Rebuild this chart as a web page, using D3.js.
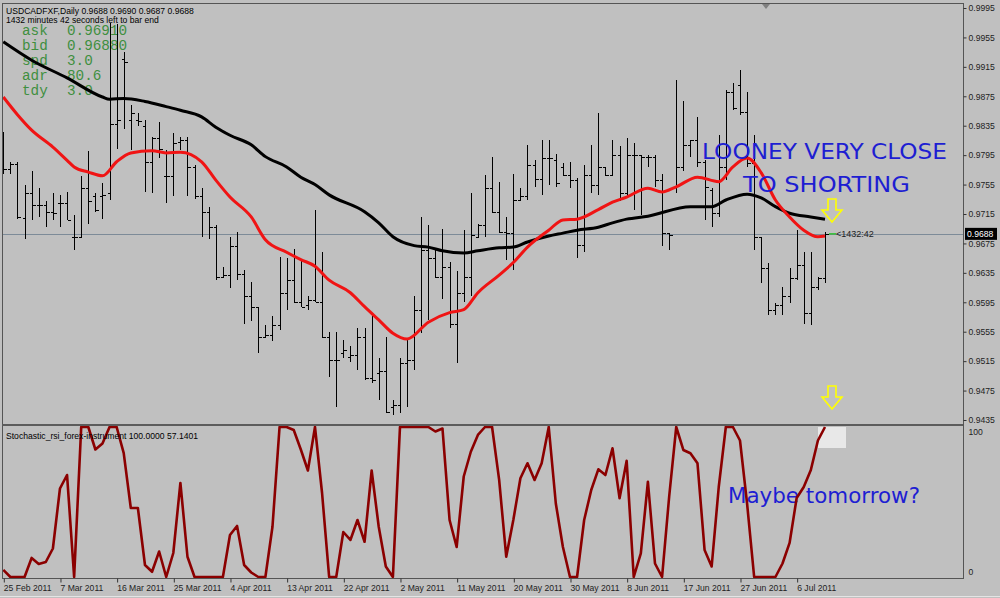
<!DOCTYPE html>
<html><head><meta charset="utf-8">
<script src="https://cdn.jsdelivr.net/npm/d3@7"></script>
<style>body{margin:0;background:#c0c0c0}svg{display:block}</style>
</head><body>
<svg id="c" width="1000" height="598"></svg>
<script>
// ---------- DATA ----------
const open = [.9783,.9776,.9783,.9709,.9743,.9727,.9727,.9718,.9730,.9730,
.9684,.9684,.9750,.9739,.9739,.9743,.9838,.9926,.9843,.9843,
.9834,.9786,.9818,.9766,.9766,.9813,.9815,.9779,.9739,.9718,
.9698,.9630,.9632,.9671,.9634,.9603,.9589,.9548,.9551,.9564,
.9607,.9625,.9596,.9591,.9598,.9596,.9548,.9517,.9526,.9521,
.9523,.9548,.9492,.9499,.9501,.9453,.9455,.9512,.9517,.9585,
.9666,.9655,.9630,.9643,.9566,.9607,.9630,.9684,.9700,.9750,
.9718,.9691,.9689,.9734,.9739,.9782,.9763,.9791,.9788,.9779,
.9768,.9761,.9673,.9768,.9754,.9779,.9768,.9795,.9743,.9795,
.9795,.9793,.9793,.9761,.9689,.9752,.9779,.9809,.9816,.9786,
.9748,.9716,.9779,.9881,.9890,.9854,.9784,.9684,.9641,.9585,
.9591,.9603,.9628,.9646,.9580,.9616,.9628];
const high = [.9827,.9786,.9786,.9754,.9773,.9750,.9732,.9743,.9741,.9745,
.9714,.9766,.9800,.9743,.9757,.9975,.9973,.9935,.9863,.9852,
.9843,.9820,.9840,.9802,.9825,.9820,.9820,.9782,.9750,.9725,
.9700,.9643,.9684,.9691,.9639,.9623,.9589,.9564,.9576,.9657,
.9655,.9668,.9653,.9603,.9720,.9664,.9555,.9555,.9544,.9535,
.9560,.9560,.9576,.9519,.9548,.9462,.9519,.9544,.9603,.9711,
.9700,.9666,.9695,.9650,.9637,.9693,.9743,.9702,.9768,.9793,
.9759,.9711,.9770,.9750,.9809,.9788,.9816,.9816,.9797,.9784,
.9786,.9764,.9782,.9809,.9852,.9779,.9816,.9807,.9818,.9811,
.9795,.9795,.9795,.9770,.9689,.9897,.9868,.9816,.9847,.9788,
.9750,.9822,.9884,.9893,.9911,.9881,.9822,.9684,.9648,.9594,
.9616,.9641,.9693,.9664,.9664,.9630,.9691];
const low = [.9770,.9770,.9708,.9681,.9707,.9711,.9698,.9707,.9698,.9707,
.9666,.9682,.9702,.9718,.9708,.9734,.9804,.9831,.9802,.9834,
.9745,.9743,.9791,.9730,.9739,.9802,.9739,.9736,.9684,.9681,
.9625,.9630,.9614,.9625,.9566,.9569,.9526,.9546,.9542,.9557,
.9585,.9594,.9589,.9585,.9596,.9546,.9494,.9453,.9519,.9514,
.9503,.9490,.9485,.9462,.9444,.9442,.9444,.9453,.9503,.9553,
.9571,.9628,.9600,.9560,.9512,.9596,.9603,.9684,.9684,.9716,
.9689,.9653,.9639,.9732,.9734,.9752,.9741,.9754,.9752,.9766,
.9750,.9655,.9664,.9743,.9741,.9766,.9766,.9732,.9739,.9720,
.9714,.9779,.9752,.9671,.9666,.9743,.9773,.9793,.9779,.9707,
.9698,.9711,.9761,.9856,.9850,.9779,.9666,.9621,.9578,.9578,
.9578,.9594,.9625,.9566,.9564,.9612,.9621];
const close = [.9776,.9783,.9711,.9743,.9727,.9727,.9718,.9716,.9730,.9707,
.9684,.9750,.9732,.9721,.9741,.9838,.9843,.9922,.9852,.9841,
.9786,.9818,.9804,.9766,.9811,.9815,.9779,.9739,.9718,.9698,
.9630,.9632,.9671,.9634,.9603,.9589,.9548,.9551,.9564,.9607,
.9625,.9596,.9589,.9598,.9596,.9548,.9517,.9517,.9530,.9523,
.9548,.9492,.9490,.9501,.9446,.9455,.9512,.9517,.9585,.9666,
.9655,.9630,.9643,.9566,.9607,.9630,.9686,.9700,.9750,.9718,
.9691,.9689,.9734,.9739,.9782,.9763,.9791,.9791,.9757,.9768,
.9761,.9673,.9768,.9754,.9779,.9768,.9795,.9743,.9795,.9795,
.9793,.9793,.9761,.9689,.9686,.9779,.9809,.9816,.9786,.9752,
.9716,.9779,.9881,.9859,.9854,.9784,.9684,.9641,.9585,.9591,
.9603,.9628,.9646,.9580,.9616,.9628,.9688];

const blackIdx = [0,4,9,14,15,17,20,23,25,28,30,32,35,37,40,42,44,46,51,53,55,58,60,62,65,67,70,72,74,77,79,81,84,86,88,91,97,100,102,105,107,109,111,114,116];
const blackVal = [.9949,.9924,.9900,.9874,.9871,.9872,.9868,.9861,.9856,.9847,.9833,.9822,.9809,.9793,.9779,.9765,.9755,.9741,.9718,.9703,.9684,.9672,.9670,.9665,.9662,.9665,.9669,.9670,.9677,.9685,.9689,.9693,.9697,.9703,.9708,.9712,.9725,.9725,.9734,.9742,.9737,.9725,.9716,.9711,.9708];
const redIdx = [0,2,4,7,9,10,12,14,16,18,21,23,25,28,30,32,35,37,40,42,44,46,49,51,53,55,57,60,63,65,67,70,72,74,77,79,81,84,86,88,91,93,95,98,101,103,105,107,109,111,113,115,116];
const redVal = [.9874,.9850,.9829,.9806,.9788,.9779,.9772,.9767,.9786,.9798,.9801,.9798,.9799,.9786,.9761,.9738,.9711,.9680,.9663,.9653,.9644,.9625,.9608,.9589,.9571,.9553,.9545,.9568,.9581,.9585,.9608,.9632,.9649,.9670,.9693,.9707,.9708,.9721,.9731,.9738,.9750,.9745,.9752,.9765,.9759,.9779,.9791,.9771,.9734,.9711,.9693,.9684,.9685];

const stoch = [4.7,0,0,0,12.7,8.7,10,19,59,68,
0,100,100,85,89,100,100,82.6,46,46,
8,3.5,17,0,16,62.7,13.5,0,0,0,
0,0,28,34,8,3,0,0,33.5,100,
100,98,85,71,100,56,0,0,30,24.7,
38,23.5,71,33.5,7,0,100,100,100,100,
100,97,99,38,20,67,83.5,94.7,100,100,
64.7,13.5,38,65.8,75.8,64.7,75.8,100,49,20,
0,0,38,58,71.8,68,85.8,52.5,77.5,0,
15.8,63.5,9,0,53.5,100,84.7,82.5,75.8,18,
7,60,100,100,91,49,0,0,0,0,
9,22.7,52.7,60,71.3,91,100];

const yTicks = [0.9995,0.9955,0.9915,0.9875,0.9835,0.9795,0.9755,0.9715,0.9675,0.9635,0.9595,0.9555,0.9515,0.9475,0.9435];
const xTickBars = [0,8,16,24,32,40,48,56,64,72,80,88,96,104,112];
const xTickLabels = ["25 Feb 2011","7 Mar 2011","16 Mar 2011","25 Mar 2011","4 Apr 2011","13 Apr 2011","22 Apr 2011","2 May 2011","11 May 2011","20 May 2011","30 May 2011","8 Jun 2011","17 Jun 2011","27 Jun 2011","6 Jul 2011"];
const infoLabels = ["ask","bid","spd","adr","tdy"];
const infoValues = ["0.96910","0.96880","3.0","80.6","3.0"];
const currentPrice = 0.9688;

// ---------- DRAW ----------
const svg = d3.select("#c");
const font = "'Liberation Sans', Arial, sans-serif";
svg.append("rect").attr("width",1000).attr("height",598).attr("fill","#c0c0c0");

const x = d3.scaleLinear().domain([0,116]).range([3.3,825]);
const y = d3.scaleLinear().domain([0.9435,0.9995]).range([420,8]);
const ys = d3.scaleLinear().domain([0,100]).range([577,427]);

const defs = svg.append("defs");
defs.append("clipPath").attr("id","mainclip").append("rect").attr("x",2).attr("y",4).attr("width",961).attr("height",420);
defs.append("clipPath").attr("id","subclip").append("rect").attr("x",2).attr("y",426).attr("width",961).attr("height",153);

// green info text (under bars)
const info = svg.append("g").attr("font-family","'Liberation Mono','DejaVu Sans Mono',monospace").attr("font-size",14.3).attr("fill","#3f8f3f");
infoLabels.forEach((l,i)=>{
  info.append("text").attr("x",22).attr("y",35+i*15).text(l);
  info.append("text").attr("x",67).attr("y",35+i*15).text(infoValues[i]);
});

const main = svg.append("g").attr("clip-path","url(#mainclip)");
// current price line
main.append("line").attr("x1",2).attr("x2",963).attr("y1",Math.round(y(currentPrice))+0.5).attr("y2",Math.round(y(currentPrice))+0.5).attr("stroke","#7d8b98").attr("stroke-width",1);

// OHLC bars
const bars = main.append("g").attr("stroke","#000").attr("stroke-width",1).attr("shape-rendering","crispEdges");
open.forEach((o,i)=>{
  const cx = Math.round(x(i))+0.5;
  bars.append("line").attr("x1",cx).attr("x2",cx).attr("y1",y(high[i])).attr("y2",y(low[i]));
  bars.append("line").attr("x1",cx-3).attr("x2",cx).attr("y1",Math.round(y(o))+0.5).attr("y2",Math.round(y(o))+0.5);
  bars.append("line").attr("x1",cx).attr("x2",cx+3).attr("y1",Math.round(y(close[i]))+0.5).attr("y2",Math.round(y(close[i]))+0.5);
});

// moving averages
const maLine = d3.line().x(d=>x(d[0])).y(d=>y(d[1])).curve(d3.curveMonotoneX);
main.append("path").attr("d",maLine(blackIdx.map((d,i)=>[d,blackVal[i]]))).attr("fill","none").attr("stroke","#000").attr("stroke-width",3);
main.append("path").attr("d",maLine(redIdx.map((d,i)=>[d,redVal[i]]))).attr("fill","none").attr("stroke","#f01414").attr("stroke-width",3);

// small green bid mark and timer text
main.append("line").attr("x1",829).attr("x2",836).attr("y1",y(currentPrice)).attr("y2",y(currentPrice)).attr("stroke","#30c030").attr("stroke-width",1.5);
svg.append("text").attr("x",836).attr("y",y(currentPrice)+3.5).attr("font-family",font).attr("font-size",9).attr("fill","#222").text("<1432:42");

// yellow arrows
function arrow(cx, top){
  const p = [[cx-4,top],[cx+4,top],[cx+4,top+11],[cx+10,top+11],[cx,top+23],[cx-10,top+11],[cx-4,top+11]];
  svg.append("path").attr("d","M"+p.map(q=>q.join(",")).join("L")+"Z").attr("fill","none").attr("stroke","#ffff00").attr("stroke-width",1.6);
}
arrow(832,199);
arrow(832,386);

// annotations
const ann = svg.append("g").attr("font-family","'Comic Sans MS','DejaVu Sans',sans-serif").attr("fill","#1e1ed2");
ann.append("text").attr("x",702).attr("y",159).attr("font-size",22).attr("textLength",245).attr("lengthAdjust","spacingAndGlyphs").text("LOONEY VERY CLOSE");
ann.append("text").attr("x",743).attr("y",192).attr("font-size",22).attr("textLength",167).attr("lengthAdjust","spacingAndGlyphs").text("TO SHORTING");
ann.append("text").attr("x",728).attr("y",503).attr("font-size",22).attr("textLength",192).attr("lengthAdjust","spacingAndGlyphs").text("Maybe tomorrow?");

// sub panel
const sub = svg.append("g").attr("clip-path","url(#subclip)");
sub.append("rect").attr("x",818).attr("y",427).attr("width",28).attr("height",21).attr("fill","#e8e8e8");
const sLine = d3.line().x((d,i)=>x(i)).y(d=>ys(d));
sub.append("path").attr("d",sLine(stoch)).attr("fill","none").attr("stroke","#8b0000").attr("stroke-width",2.6).attr("stroke-linejoin","round");

// frames
const frame = svg.append("g").attr("shape-rendering","crispEdges");
frame.append("line").attr("x1",2.5).attr("x2",2.5).attr("y1",3).attr("y2",579).attr("stroke","#555");
frame.append("line").attr("x1",2).attr("x2",963).attr("y1",3.5).attr("y2",3.5).attr("stroke","#555");
frame.append("rect").attr("x",2).attr("y",424).attr("width",961).attr("height",2).attr("fill","#5c5c5c");
frame.append("line").attr("x1",2).attr("x2",964).attr("y1",578.5).attr("y2",578.5).attr("stroke","#555");
frame.append("line").attr("x1",963.5).attr("x2",963.5).attr("y1",3).attr("y2",579).attr("stroke","#555");
frame.append("line").attr("x1",0).attr("x2",1000).attr("y1",596.5).attr("y2",596.5).attr("stroke","#e4e4e4");

// right axis
const yAxis = d3.axisRight(y).tickValues(yTicks).tickSize(3).tickPadding(2).tickFormat(d3.format(".4f"));
const ga = svg.append("g").attr("transform","translate(963.5,0)").call(yAxis);
ga.select(".domain").remove();
ga.selectAll("line").attr("stroke","#333");
ga.selectAll("text").attr("font-family",font).attr("font-size",8.6).attr("fill","#222");

// current price box
svg.append("rect").attr("x",965).attr("y",y(currentPrice)-6).attr("width",32).attr("height",12).attr("fill","#000");
svg.append("text").attr("x",967).attr("y",y(currentPrice)+3.5).attr("font-family",font).attr("font-size",8.6).attr("fill","#fff").text(d3.format(".4f")(currentPrice));

// sub axis labels
const sAxis = d3.axisRight(ys).tickValues([100,0]).tickSize(3).tickPadding(2).tickFormat(d3.format("d"));
const gs = svg.append("g").attr("transform","translate(963.5,0)").call(sAxis);
gs.select(".domain").remove();
gs.selectAll("line").remove();
gs.selectAll("text").attr("font-family",font).attr("font-size",8.6).attr("fill","#222").attr("dy","0.9em");
gs.selectAll(".tick").filter(d=>d===0).select("text").attr("dy","-0.3em");

// bottom axis
const xAxis = d3.axisBottom(x).tickValues(xTickBars).tickSize(4).tickPadding(2).tickFormat((d,i)=>xTickLabels[i]);
const gx = svg.append("g").attr("transform","translate(0,578.5)").call(xAxis);
gx.select(".domain").remove();
gx.selectAll("line").attr("stroke","#333").attr("transform","translate(0.5,0)");
gx.selectAll("text").attr("font-family",font).attr("font-size",8.6).attr("fill","#222").attr("text-anchor","start").attr("dx","0px");

// top-left texts
svg.append("text").attr("x",6).attr("y",14).attr("font-family",font).attr("font-size",8.6).attr("fill","#000").text("USDCADFXF,Daily  0.9688 0.9690 0.9687 0.9688");
svg.append("text").attr("x",6).attr("y",23).attr("font-family",font).attr("font-size",8.6).attr("fill","#000").text("1432 minutes 42 seconds left to bar end");
svg.append("text").attr("x",6).attr("y",439).attr("font-family",font).attr("font-size",8.6).attr("fill","#000").text("Stochastic_rsi_forex-instrument 100.0000 57.1401");
// chart shift marker
svg.append("path").attr("d","M762,4L770,4L766,9Z").attr("fill","#808080");
</script>
</body></html>
